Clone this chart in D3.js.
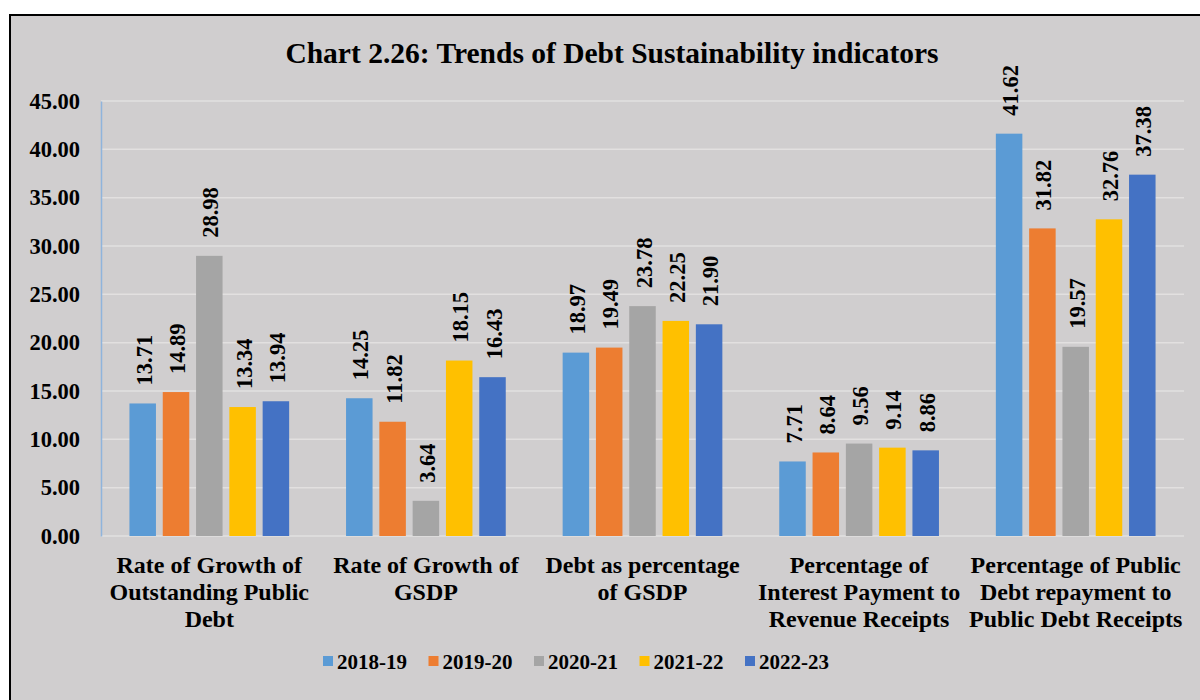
<!DOCTYPE html>
<html>
<head>
<meta charset="utf-8">
<script src="https://cdn.jsdelivr.net/npm/d3@7"></script>
<style>
  body { margin: 0; background: #fff; }
  svg { display: block; font-family: "Liberation Serif", "Times New Roman", serif; }
</style>
</head>
<body>
<svg id="chart" width="1200" height="700"></svg>
<script>
const categories = [
    ["Rate of Growth of", "Outstanding Public", "Debt"],
    ["Rate of Growth of", "GSDP"],
    ["Debt as percentage", "of GSDP"],
    ["Percentage of", "Interest Payment to", "Revenue Receipts"],
    ["Percentage of Public", "Debt repayment to", "Public Debt Receipts"]
];
const years = ["2018-19", "2019-20", "2020-21", "2021-22", "2022-23"];
const values2018 = [13.71, 14.25, 18.97, 7.71, 41.62];
const values2019 = [14.89, 11.82, 19.49, 8.64, 31.82];
const values2020 = [28.98, 3.64, 23.78, 9.56, 19.57];
const values2021 = [13.34, 18.15, 22.25, 9.14, 32.76];
const values2022 = [13.94, 16.43, 21.90, 8.86, 37.38];
const yTicks = [0, 5, 10, 15, 20, 25, 30, 35, 40, 45];
const colors = ["#5B9BD5", "#ED7D31", "#A5A5A5", "#FFC000", "#4472C4"];

const series = [values2018, values2019, values2020, values2021, values2022];

const svg = d3.select("#chart");

// chart frame (runs off the right and bottom edge)
svg.append("rect")
    .attr("x", 10).attr("y", 15)
    .attr("width", 1200).attr("height", 700)
    .attr("fill", "#d0cecf")
    .attr("stroke", "#000")
    .attr("stroke-width", 2);

svg.append("text")
    .attr("x", 612).attr("y", 63)
    .attr("text-anchor", "middle")
    .attr("font-size", "29.5px")
    .attr("font-weight", "bold")
    .text("Chart 2.26: Trends of Debt Sustainability indicators");

const plotLeft = 101, plotRight = 1184, plotTop = 101, plotBottom = 536;

const x = d3.scaleBand()
    .domain(d3.range(categories.length))
    .range([plotLeft, plotRight]);

const y = d3.scaleLinear()
    .domain([0, 45])
    .range([plotBottom, plotTop]);

// gridlines
svg.append("g")
    .selectAll("line")
    .data(yTicks)
    .enter().append("line")
        .attr("x1", plotLeft).attr("x2", plotRight)
        .attr("y1", d => y(d)).attr("y2", d => y(d))
        .attr("stroke", "#e2e0e0")
        .attr("stroke-width", 1.5);

// y axis labels
const yAxis = svg.append("g")
    .attr("transform", `translate(${plotLeft}, 0)`)
    .call(d3.axisLeft(y).tickValues(yTicks).tickFormat(d3.format(".2f")).tickSize(0).tickPadding(21));
yAxis.select(".domain").attr("stroke", "#8fb4dc").attr("stroke-width", 1.5);
yAxis.selectAll("text")
    .attr("font-family", "Liberation Serif, Times New Roman, serif")
    .attr("font-size", "22.5px")
    .attr("font-weight", "bold")
    .attr("fill", "#000");

// bars
const barStep = 33.3, barW = 26.5;
series.forEach((vals, s) => {
    const g = svg.append("g");
    g.selectAll("rect")
        .data(vals)
        .enter().append("rect")
            .attr("x", (d, i) => x(i) + x.bandwidth() / 2 + (s - 2) * barStep - barW / 2)
            .attr("y", d => y(d))
            .attr("width", barW)
            .attr("height", d => y(0) - y(d))
            .attr("fill", colors[s]);

    g.selectAll("text")
        .data(vals)
        .enter().append("text")
            .attr("transform", (d, i) => {
                const cx = x(i) + x.bandwidth() / 2 + (s - 2) * barStep + 9;
                return `translate(${cx}, ${y(d) - 18}) rotate(-90)`;
            })
            .attr("font-size", "22.5px")
            .attr("font-weight", "bold")
            .text(d => d.toFixed(2));
});

// category labels
const catG = svg.append("g");
categories.forEach((lines, i) => {
    const t = catG.append("text")
        .attr("x", x(i) + x.bandwidth() / 2)
        .attr("y", 573)
        .attr("text-anchor", "middle")
        .attr("font-size", "24px")
        .attr("font-weight", "bold");
    lines.forEach((ln, k) => {
        t.append("tspan")
            .attr("x", x(i) + x.bandwidth() / 2)
            .attr("dy", k === 0 ? 0 : 27)
            .text(ln);
    });
});

// legend
const legend = svg.append("g")
    .attr("transform", "translate(323, 661)")
    .selectAll("g")
    .data(years)
    .enter().append("g")
        .attr("transform", (d, i) => `translate(${i * 105.5}, 0)`);

legend.append("rect")
    .attr("x", 0).attr("y", -5)
    .attr("width", 10).attr("height", 10)
    .attr("fill", (d, i) => colors[i]);

legend.append("text")
    .attr("x", 14).attr("y", 7.5)
    .attr("font-size", "21px")
    .attr("font-weight", "bold")
    .text(d => d);
</script>
</body>
</html>
